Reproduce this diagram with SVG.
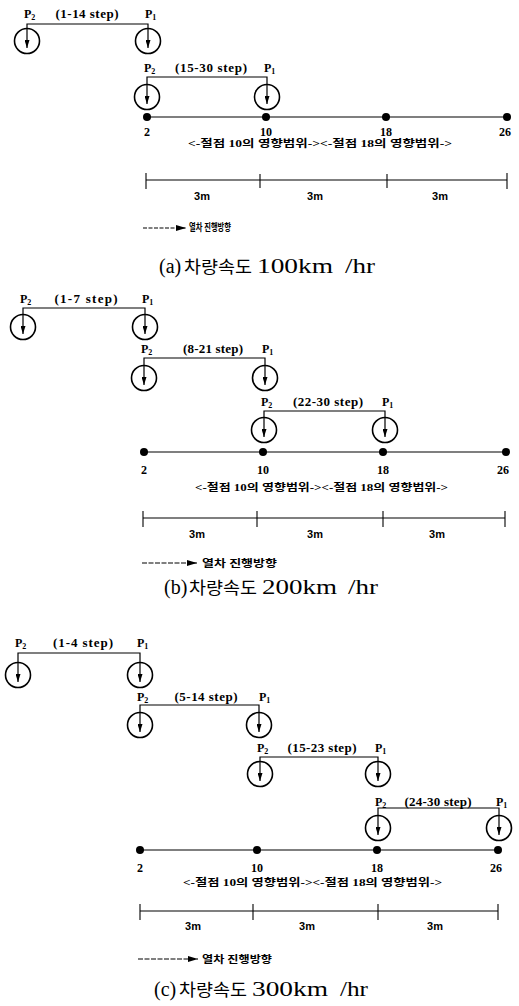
<svg xmlns="http://www.w3.org/2000/svg" width="519" height="1006" viewBox="0 0 519 1006">
<style>
.bg{fill:#fff}
.c{fill:none;stroke:#000;stroke-width:1.6}
.br{fill:none;stroke:#000;stroke-width:1.2}
.bl{stroke:#000;stroke-width:1.1}
.dot{fill:#000}
.p{font-family:"Liberation Serif",serif;font-weight:bold;font-size:12px;fill:#000}
.sub{font-size:8px}
.st{font-family:"Liberation Serif",serif;font-weight:bold;font-size:13px;fill:#000;text-anchor:middle}
.num{font-family:"Liberation Serif",serif;font-weight:bold;font-size:12px;fill:#000;text-anchor:middle}
.kr{font-family:"Liberation Serif","Noto Sans CJK KR",sans-serif;font-weight:bold;font-size:10px;fill:#000}
.m{font-family:"Liberation Sans",sans-serif;font-weight:bold;font-size:11px;fill:#000;text-anchor:middle}
.cap{font-family:"Liberation Serif","Noto Sans CJK KR",serif;font-size:20px;fill:#000}
.ck{font-family:"Noto Sans CJK KR",sans-serif;font-size:17px}
</style>
<defs>
<marker id="ah" viewBox="0 0 8 5" refX="8" refY="2.5" markerWidth="8" markerHeight="5" markerUnits="userSpaceOnUse" orient="auto-start-reverse"><path d="M0,0 L8,2.5 L0,5 z" fill="#000"/></marker>
<marker id="lg" viewBox="0 0 10 6" refX="10" refY="3" markerWidth="10" markerHeight="6" markerUnits="userSpaceOnUse" orient="auto"><path d="M0,0 L10,3 L0,6 z" fill="#000"/></marker>
</defs>
<rect class="bg" x="0" y="0" width="519" height="1006"/>

<!-- ===== (a) ===== -->
<g id="a-step1">
<path class="br" d="M27,48 V24 H148 V48" marker-start="url(#ah)" marker-end="url(#ah)"/>
<circle class="c" cx="27" cy="41" r="12.5"/><circle class="c" cx="148" cy="41" r="12.5"/>
<text class="p" x="24" y="18">P<tspan class="sub" dy="2">2</tspan></text>
<text class="st" x="87" y="18" textLength="63">(1-14 step)</text>
<text class="p" x="145" y="18">P<tspan class="sub" dy="2">1</tspan></text>
</g>
<g id="a-step2">
<path class="br" d="M147,104 V77 H267 V104" marker-start="url(#ah)" marker-end="url(#ah)"/>
<circle class="c" cx="147" cy="97" r="12.5"/><circle class="c" cx="267" cy="97" r="12.5"/>
<text class="p" x="144" y="72">P<tspan class="sub" dy="2">2</tspan></text>
<text class="st" x="211" y="72" textLength="72">(15-30 step)</text>
<text class="p" x="264" y="72">P<tspan class="sub" dy="2">1</tspan></text>
</g>
<g id="a-track">
<line class="bl" x1="147" y1="117" x2="507" y2="117"/>
<circle class="dot" cx="147" cy="117" r="4"/><circle class="dot" cx="266" cy="117" r="4"/><circle class="dot" cx="386" cy="117" r="4"/><circle class="dot" cx="507" cy="117" r="4"/>
<text class="num" x="147" y="136">2</text><text class="num" x="266" y="136">10</text><text class="num" x="386" y="136">18</text><text class="num" x="505" y="136">26</text>
<text class="kr" x="188" y="147" textLength="264" lengthAdjust="spacingAndGlyphs">&lt;-절점 10의 영향범위-&gt;&lt;-절점 18의 영향범위-&gt;</text>
</g>
<g id="a-scale">
<line class="bl" x1="146" y1="180" x2="507" y2="180"/>
<line class="bl" x1="146" y1="173" x2="146" y2="189"/><line class="bl" x1="260" y1="174" x2="260" y2="188"/><line class="bl" x1="387" y1="174" x2="387" y2="188"/><line class="bl" x1="507" y1="173" x2="507" y2="189"/>
<text class="m" x="202" y="200">3m</text><text class="m" x="315" y="200">3m</text><text class="m" x="440" y="200">3m</text>
</g>
<g id="a-legend">
<line class="bl" x1="143" y1="228" x2="186" y2="228" stroke-dasharray="4,1.5" marker-end="url(#lg)"/>
<text class="kr" x="189" y="231" textLength="42" lengthAdjust="spacingAndGlyphs" font-size="8">열차 진행방향</text>
</g>
<text id="a-caption" class="cap" y="273"><tspan x="159">(a)</tspan><tspan class="ck" x="184" textLength="68" lengthAdjust="spacingAndGlyphs">차량속도</tspan><tspan x="257" textLength="76" lengthAdjust="spacingAndGlyphs">100km</tspan><tspan x="345" textLength="30" lengthAdjust="spacingAndGlyphs">/hr</tspan></text>

<!-- ===== (b) ===== -->
<g id="b-step1">
<path class="br" d="M23,334 V308 H145 V334" marker-start="url(#ah)" marker-end="url(#ah)"/>
<circle class="c" cx="23" cy="327" r="12.5"/><circle class="c" cx="145" cy="327" r="12.5"/>
<text class="p" x="20" y="303">P<tspan class="sub" dy="2">2</tspan></text>
<text class="st" x="86" y="303" textLength="63">(1-7 step)</text>
<text class="p" x="142" y="303">P<tspan class="sub" dy="2">1</tspan></text>
</g>
<g id="b-step2">
<path class="br" d="M144,385 V358 H265 V385" marker-start="url(#ah)" marker-end="url(#ah)"/>
<circle class="c" cx="144" cy="378" r="12.5"/><circle class="c" cx="265" cy="378" r="12.5"/>
<text class="p" x="141" y="353">P<tspan class="sub" dy="2">2</tspan></text>
<text class="st" x="213" y="353" textLength="60">(8-21 step)</text>
<text class="p" x="262" y="353">P<tspan class="sub" dy="2">1</tspan></text>
</g>
<g id="b-step3">
<path class="br" d="M264,437 V411 H385 V437" marker-start="url(#ah)" marker-end="url(#ah)"/>
<circle class="c" cx="264" cy="430" r="12.5"/><circle class="c" cx="385" cy="430" r="12.5"/>
<text class="p" x="261" y="406">P<tspan class="sub" dy="2">2</tspan></text>
<text class="st" x="328" y="406" textLength="70">(22-30 step)</text>
<text class="p" x="382" y="406">P<tspan class="sub" dy="2">1</tspan></text>
</g>
<g id="b-track">
<line class="bl" x1="144" y1="452" x2="506" y2="452"/>
<circle class="dot" cx="144" cy="452" r="4"/><circle class="dot" cx="263" cy="452" r="4"/><circle class="dot" cx="383" cy="452" r="4"/><circle class="dot" cx="506" cy="452" r="4"/>
<text class="num" x="144" y="474">2</text><text class="num" x="263" y="474">10</text><text class="num" x="383" y="474">18</text><text class="num" x="503" y="474">26</text>
<text class="kr" x="195" y="491" textLength="253" lengthAdjust="spacingAndGlyphs">&lt;-절점 10의 영향범위-&gt;&lt;-절점 18의 영향범위-&gt;</text>
</g>
<g id="b-scale">
<line class="bl" x1="143" y1="518" x2="505" y2="518"/>
<line class="bl" x1="143" y1="511" x2="143" y2="527"/><line class="bl" x1="257" y1="511" x2="257" y2="527"/><line class="bl" x1="383" y1="511" x2="383" y2="527"/><line class="bl" x1="505" y1="511" x2="505" y2="527"/>
<text class="m" x="197" y="538">3m</text><text class="m" x="315" y="538">3m</text><text class="m" x="437" y="538">3m</text>
</g>
<g id="b-legend">
<line class="bl" x1="142" y1="563" x2="197" y2="563" stroke-dasharray="5,1.5" marker-end="url(#lg)"/>
<text class="kr" x="202" y="567" textLength="75" lengthAdjust="spacingAndGlyphs">열차 진행방향</text>
</g>
<text id="b-caption" class="cap" y="594"><tspan x="164">(b)</tspan><tspan class="ck" x="189" textLength="68" lengthAdjust="spacingAndGlyphs">차량속도</tspan><tspan x="262" textLength="75" lengthAdjust="spacingAndGlyphs">200km</tspan><tspan x="348" textLength="30" lengthAdjust="spacingAndGlyphs">/hr</tspan></text>

<!-- ===== (c) ===== -->
<g id="c-step1">
<path class="br" d="M18,682 V653 H140 V682" marker-start="url(#ah)" marker-end="url(#ah)"/>
<circle class="c" cx="18" cy="675" r="12.5"/><circle class="c" cx="140" cy="675" r="12.5"/>
<text class="p" x="15" y="647">P<tspan class="sub" dy="2">2</tspan></text>
<text class="st" x="83" y="647" textLength="60">(1-4 step)</text>
<text class="p" x="137" y="647">P<tspan class="sub" dy="2">1</tspan></text>
</g>
<g id="c-step2">
<path class="br" d="M140,732 V705 H259 V732" marker-start="url(#ah)" marker-end="url(#ah)"/>
<circle class="c" cx="140" cy="725" r="12.5"/><circle class="c" cx="259" cy="725" r="12.5"/>
<text class="p" x="137" y="701">P<tspan class="sub" dy="2">2</tspan></text>
<text class="st" x="206" y="701" textLength="63">(5-14 step)</text>
<text class="p" x="259" y="701">P<tspan class="sub" dy="2">1</tspan></text>
</g>
<g id="c-step3">
<path class="br" d="M260,781 V757 H378 V781" marker-start="url(#ah)" marker-end="url(#ah)"/>
<circle class="c" cx="260" cy="774" r="12.5"/><circle class="c" cx="378" cy="774" r="12.5"/>
<text class="p" x="257" y="752">P<tspan class="sub" dy="2">2</tspan></text>
<text class="st" x="322" y="752" textLength="69">(15-23 step)</text>
<text class="p" x="375" y="752">P<tspan class="sub" dy="2">1</tspan></text>
</g>
<g id="c-step4">
<path class="br" d="M378,835 V808 H499 V835" marker-start="url(#ah)" marker-end="url(#ah)"/>
<circle class="c" cx="378" cy="828" r="12.5"/><circle class="c" cx="499" cy="828" r="12.5"/>
<text class="p" x="375" y="806">P<tspan class="sub" dy="2">2</tspan></text>
<text class="st" x="438" y="806" textLength="67">(24-30 step)</text>
<text class="p" x="496" y="806">P<tspan class="sub" dy="2">1</tspan></text>
</g>
<g id="c-track">
<line class="bl" x1="140" y1="850" x2="498" y2="850"/>
<circle class="dot" cx="140" cy="850" r="4"/><circle class="dot" cx="257" cy="850" r="4"/><circle class="dot" cx="377" cy="850" r="4"/><circle class="dot" cx="498" cy="850" r="4"/>
<text class="num" x="140" y="872">2</text><text class="num" x="257" y="872">10</text><text class="num" x="377" y="872">18</text><text class="num" x="496" y="872">26</text>
<text class="kr" x="183" y="886" textLength="259" lengthAdjust="spacingAndGlyphs">&lt;-절점 10의 영향범위-&gt;&lt;-절점 18의 영향범위-&gt;</text>
</g>
<g id="c-scale">
<line class="bl" x1="140" y1="911" x2="498" y2="911"/>
<line class="bl" x1="140" y1="904" x2="140" y2="920"/><line class="bl" x1="253" y1="904" x2="253" y2="920"/><line class="bl" x1="378" y1="904" x2="378" y2="920"/><line class="bl" x1="498" y1="904" x2="498" y2="920"/>
<text class="m" x="193" y="930">3m</text><text class="m" x="307" y="930">3m</text><text class="m" x="435" y="930">3m</text>
</g>
<g id="c-legend">
<line class="bl" x1="138" y1="959" x2="198" y2="959" stroke-dasharray="5,1.5" marker-end="url(#lg)"/>
<text class="kr" x="202" y="963" textLength="70" lengthAdjust="spacingAndGlyphs">열차 진행방향</text>
</g>
<text id="c-caption" class="cap" y="996"><tspan x="154">(c)</tspan><tspan class="ck" x="179" textLength="68" lengthAdjust="spacingAndGlyphs">차량속도</tspan><tspan x="252" textLength="76" lengthAdjust="spacingAndGlyphs">300km</tspan><tspan x="340" textLength="28" lengthAdjust="spacingAndGlyphs">/hr</tspan></text>
</svg>
